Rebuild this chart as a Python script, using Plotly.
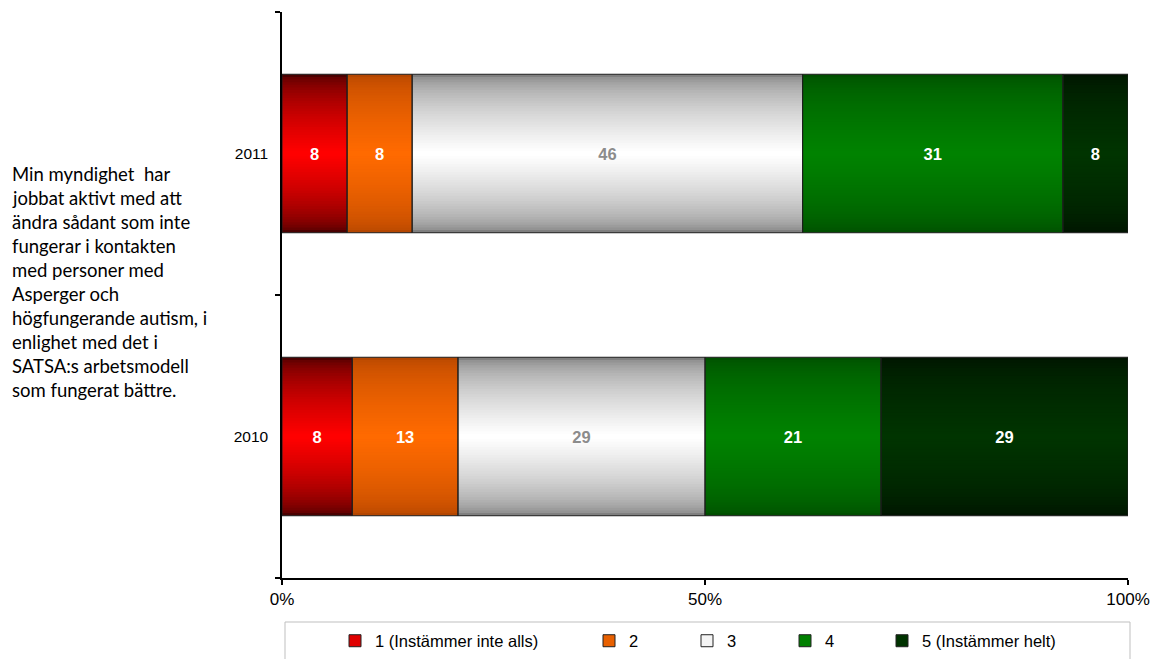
import math
import numpy as np
import plotly.graph_objects as go

# ---------------- data ----------------
years = ["2010", "2011"]
series_names = ["1 (Instämmer inte alls)", "2", "3", "4", "5 (Instämmer helt)"]
s1 = [8.3, 7.7]
s2 = [12.5, 7.7]
s3 = [29.2, 46.2]
s4 = [20.8, 30.8]
s5 = [29.2, 7.7]
x_tickvals = [0, 50, 100]
x_ticktext = ["0%", "50%", "100%"]
question_lines = [
    "Min myndighet  har",
    "jobbat aktivt med att",
    "ändra sådant som inte",
    "fungerar i kontakten",
    "med personer med",
    "Asperger och",
    "högfungerande autism, i",
    "enlighet med det i",
    "SATSA:s arbetsmodell",
    "som fungerat bättre.",
]

# ---------------- styles ----------------
edge_colors = ["#4a0000", "#b44600", "#7f7f7f", "#004e00", "#001400"]
center_colors = ["#ff0000", "#ff6a00", "#ffffff", "#008200", "#003400"]
legend_colors = ["#e00000", "#e86000", "#f4f4f4", "#008000", "#003300"]
label_colors = ["white", "white", "#8c8c8c", "white", "white"]
legend_ids = ["legend", "legend2", "legend2", "legend2", "legend3"]
BAR_W = 0.56
N_LAYERS = 30

all_series = [s1, s2, s3, s4, s5]
vals = np.array(all_series, dtype=float)
totals = vals.sum(axis=0)
pct = vals / totals * 100.0
bases = np.vstack([np.zeros(len(years)), np.cumsum(pct, axis=0)[:-1]])


def hex2rgb(h):
    h = h.lstrip("#")
    return [int(h[i:i + 2], 16) for i in (0, 2, 4)]


def mix(c1, c2, t):
    a, b = hex2rgb(c1), hex2rgb(c2)
    return "rgb({},{},{})".format(*[round(a[i] + (b[i] - a[i]) * t) for i in range(3)])


fig = go.Figure()

# gradient layers (each layer a narrower overlaid bar of the same data)
for k in range(N_LAYERS):
    t = (k / (N_LAYERS - 1)) ** 0.55
    w = BAR_W * (1 - k / N_LAYERS)
    for i in range(5):
        fig.add_trace(go.Bar(
            y=years, x=pct[i], base=bases[i], orientation="h",
            width=w, marker=dict(color=mix(edge_colors[i], center_colors[i], t), line=dict(width=0)),
            showlegend=False, hoverinfo="skip",
        ))

# outline + labels layer
for i in range(5):
    labels = [str(math.floor(v + 0.5)) for v in all_series[i]]
    fig.add_trace(go.Bar(
        y=years, x=pct[i], base=bases[i], orientation="h", width=BAR_W,
        marker=dict(color="rgba(0,0,0,0)", line=dict(color="#1e1e1e", width=1)),
        text=labels, textposition="inside", insidetextanchor="middle",
        constraintext="none",
        textfont=dict(family="Liberation Sans, Arial", size=16.5, color=label_colors[i], weight="bold"),
        showlegend=False, name=series_names[i],
    ))

# legend entries
for i in range(5):
    fig.add_trace(go.Bar(
        y=[None], x=[None], orientation="h", name=series_names[i],
        marker=dict(color=legend_colors[i], line=dict(color="#222222", width=1)),
        legend=legend_ids[i],
    ))

OFF = 8  # page body margin
L, R, T, B = 282 - OFF, 1161 - (1128 - OFF), 12 - OFF, 659 - (578 - OFF)
PW = 1161 - L - R
PH = 659 - T - B


def px_x(p):
    return (p - OFF - L) / PW


def px_y(p):
    return (659 - B - (p - OFF)) / PH


for j, line in enumerate(question_lines):
    fig.add_annotation(
        text=line, xref="paper", yref="paper", x=px_x(10), y=px_y(174 + 24 * j),
        xanchor="left", yanchor="middle", showarrow=False, align="left",
        font=dict(family="Lato, Carlito, Calibri", size=18.5, color="#000000"),
    )

# legend frame
fig.add_shape(type="rect", xref="paper", yref="paper",
              x0=px_x(285), x1=px_x(1130), y0=px_y(622), y1=px_y(672),
              line=dict(color="#bfbfbf", width=1), fillcolor="rgba(0,0,0,0)")

legend_font = dict(family="Liberation Sans, Arial", size=16.5, color="#000000")
common_legend = dict(orientation="h", xanchor="left", y=px_y(641), yanchor="middle",
                     font=legend_font, bgcolor="rgba(0,0,0,0)", borderwidth=0, itemwidth=30)
fig.update_layout(
    width=1161, height=659,
    margin=dict(l=L, r=R, t=T, b=B, pad=0),
    paper_bgcolor="white", plot_bgcolor="white",
    barmode="overlay",
    legend=dict(x=px_x(335), **common_legend),
    legend2=dict(x=px_x(589), entrywidth=53, entrywidthmode="pixels", **common_legend),
    legend3=dict(x=px_x(882), **common_legend),
    xaxis=dict(range=[0, 100], tickvals=x_tickvals, ticktext=x_ticktext,
               ticks="outside", ticklen=5, tickcolor="#000000", tickwidth=1.5,
               showline=True, linecolor="#000000", linewidth=1.5,
               showgrid=False, zeroline=False,
               tickfont=dict(family="Liberation Sans, Arial", size=17, color="#000000")),
    yaxis=dict(type="category", categoryorder="array", categoryarray=years,
               range=[-0.5, 1.5], tickson="boundaries",
               ticks="outside", ticklen=5, tickcolor="#000000", tickwidth=1.5,
               showline=True, linecolor="#000000", linewidth=1.5,
               showgrid=False, zeroline=False, ticklabelstandoff=9,
               tickfont=dict(family="Liberation Sans, Arial", size=15.5, color="#000000")),
)

fig.write_html("out.html")
